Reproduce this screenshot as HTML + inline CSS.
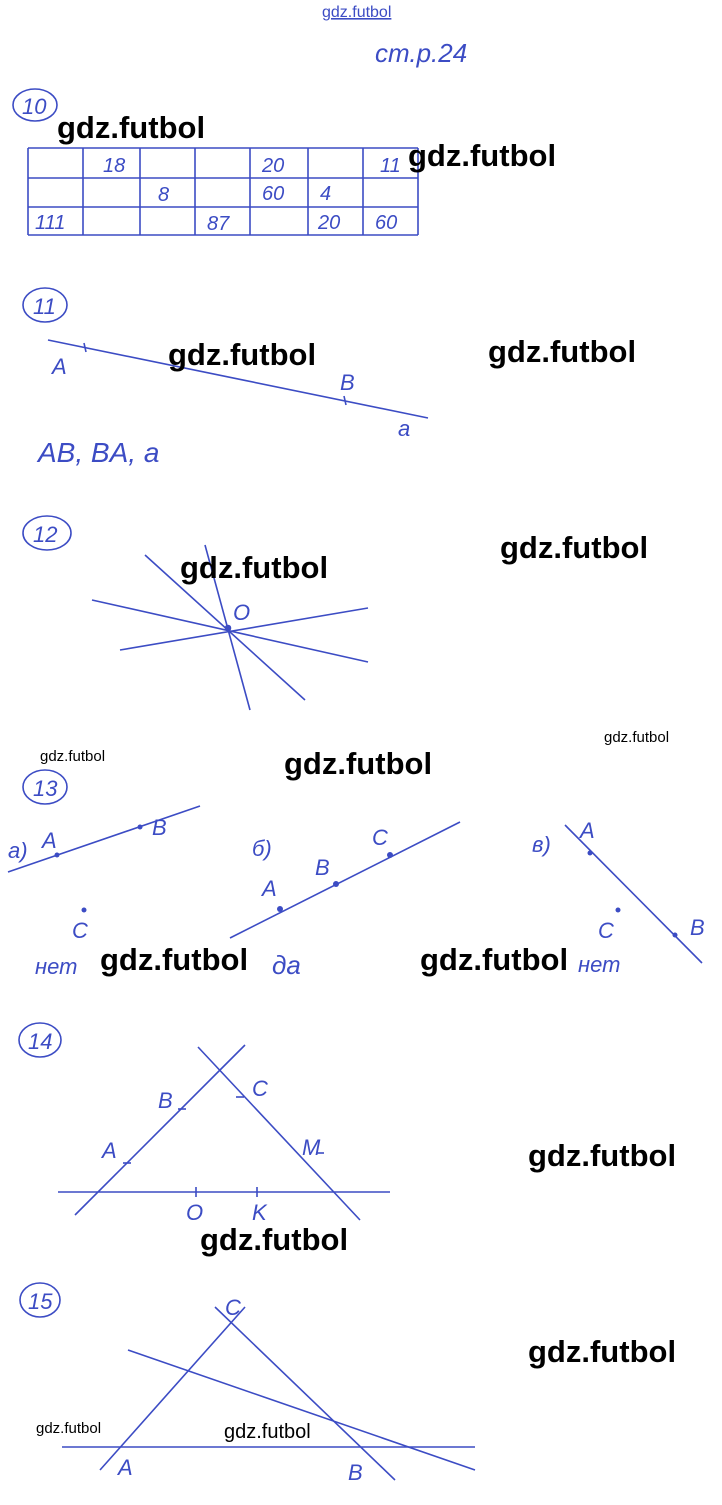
<!DOCTYPE html>
<html><head><meta charset="utf-8"><style>
html,body{margin:0;padding:0;background:#fff;}
body{width:722px;height:1505px;position:relative;overflow:hidden;}
svg{position:absolute;left:0;top:0;}
.h{font-family:"Liberation Sans",sans-serif;font-style:italic;fill:#3c4cc4;}
.w{font-family:"Liberation Sans",sans-serif;font-weight:bold;fill:#000;font-size:31px;}
.ws{font-family:"Liberation Sans",sans-serif;fill:#000;}
</style></head><body>
<svg width="722" height="1505" viewBox="0 0 722 1505" stroke="#3c4cc4" stroke-width="1.6" fill="none">
<text x="322" y="17" font-family="Liberation Sans" font-size="16" fill="#3c4cc4" stroke="none" text-decoration="underline">gdz.futbol</text>
<text class="h" x="375" y="62" font-size="26" stroke="none">ст.р.24</text>
<!-- 10 -->
<ellipse cx="35" cy="105" rx="22" ry="16"/><text class="h" x="22" y="114" font-size="22" stroke="none">10</text>
<g>
<line x1="28" y1="148" x2="418" y2="148"/><line x1="28" y1="178" x2="418" y2="178"/>
<line x1="28" y1="207" x2="418" y2="207"/><line x1="28" y1="235" x2="418" y2="235"/>
<line x1="28" y1="148" x2="28" y2="235"/><line x1="83" y1="148" x2="83" y2="235"/>
<line x1="140" y1="148" x2="140" y2="235"/><line x1="195" y1="148" x2="195" y2="235"/>
<line x1="250" y1="148" x2="250" y2="235"/><line x1="308" y1="148" x2="308" y2="235"/>
<line x1="363" y1="148" x2="363" y2="235"/><line x1="418" y1="148" x2="418" y2="235"/>
</g>
<g class="h" font-size="20" stroke="none">
<text x="103" y="172">18</text><text x="262" y="172">20</text><text x="380" y="172">11</text>
<text x="158" y="201">8</text><text x="262" y="200">60</text><text x="320" y="200">4</text>
<text x="35" y="229">111</text><text x="207" y="230">87</text><text x="318" y="229">20</text><text x="375" y="229">60</text>
</g>
<!-- 11 -->
<ellipse cx="45" cy="305" rx="22" ry="17"/><text class="h" x="33" y="314" font-size="22" stroke="none">11</text>
<line x1="48" y1="340" x2="428" y2="418"/>
<line x1="84" y1="343" x2="86" y2="352"/><line x1="344" y1="396" x2="346" y2="405"/>
<g class="h" font-size="22" stroke="none"><text x="52" y="374">A</text><text x="340" y="390">B</text><text x="398" y="436">a</text><text x="38" y="462" font-size="28">AB, BA, a</text></g>
<!-- 12 -->
<ellipse cx="47" cy="533" rx="24" ry="17"/><text class="h" x="33" y="542" font-size="22" stroke="none">12</text>
<line x1="92" y1="600" x2="368" y2="662"/><line x1="145" y1="555" x2="305" y2="700"/>
<line x1="205" y1="545" x2="250" y2="710"/><line x1="120" y1="650" x2="368" y2="608"/>
<circle cx="228" cy="628" r="2.5" fill="#3c4cc4"/>
<text class="h" x="233" y="620" font-size="22" stroke="none">O</text>
<!-- 13 -->
<ellipse cx="45" cy="787" rx="22" ry="17"/><text class="h" x="33" y="796" font-size="22" stroke="none">13</text>
<line x1="8" y1="872" x2="200" y2="806"/>
<line x1="230" y1="938" x2="460" y2="822"/>
<line x1="565" y1="825" x2="702" y2="963"/>
<g fill="#3c4cc4" stroke="none">
<circle cx="57" cy="855" r="2.5"/><circle cx="140" cy="827" r="2.5"/><circle cx="84" cy="910" r="2.5"/>
<circle cx="280" cy="909" r="3"/><circle cx="336" cy="884" r="3"/><circle cx="390" cy="855" r="3"/>
<circle cx="590" cy="853" r="2.5"/><circle cx="675" cy="935" r="2.5"/><circle cx="618" cy="910" r="2.5"/>
</g>
<g class="h" font-size="22" stroke="none">
<text x="8" y="858">а)</text><text x="42" y="848">A</text><text x="152" y="835">B</text><text x="72" y="938">C</text><text x="35" y="974">нет</text>
<text x="252" y="856">б)</text><text x="262" y="896">A</text><text x="315" y="875">B</text><text x="372" y="845">C</text><text x="272" y="974" font-size="26">да</text>
<text x="532" y="852">в)</text><text x="580" y="838">A</text><text x="690" y="935">B</text><text x="598" y="938">C</text><text x="578" y="972">нет</text>
</g>
<!-- 14 -->
<ellipse cx="40" cy="1040" rx="21" ry="17"/><text class="h" x="28" y="1049" font-size="22" stroke="none">14</text>
<line x1="58" y1="1192" x2="390" y2="1192"/>
<line x1="75" y1="1215" x2="245" y2="1045"/>
<line x1="198" y1="1047" x2="360" y2="1220"/>
<line x1="196" y1="1187" x2="196" y2="1197"/><line x1="257" y1="1187" x2="257" y2="1197"/>
<line x1="123" y1="1163" x2="131" y2="1163"/><line x1="178" y1="1109" x2="186" y2="1109"/>
<line x1="236" y1="1097" x2="244" y2="1097"/><line x1="316" y1="1153" x2="324" y2="1153"/>
<g class="h" font-size="22" stroke="none"><text x="102" y="1158">A</text><text x="158" y="1108">B</text><text x="252" y="1096">C</text><text x="302" y="1155">M</text><text x="186" y="1220">O</text><text x="252" y="1220">K</text></g>
<!-- 15 -->
<ellipse cx="40" cy="1300" rx="20" ry="17"/><text class="h" x="28" y="1309" font-size="22" stroke="none">15</text>
<line x1="62" y1="1447" x2="475" y2="1447"/>
<line x1="100" y1="1470" x2="245" y2="1307"/>
<line x1="215" y1="1307" x2="395" y2="1480"/>
<line x1="128" y1="1350" x2="475" y2="1470"/>
<g class="h" font-size="22" stroke="none"><text x="225" y="1315">C</text><text x="118" y="1475">A</text><text x="348" y="1480">B</text></g>
<!-- watermarks -->
<g stroke="none">
<text class="w" x="57" y="138">gdz.futbol</text>
<text class="w" x="408" y="166">gdz.futbol</text>
<text class="w" x="168" y="365">gdz.futbol</text>
<text class="w" x="488" y="362">gdz.futbol</text>
<text class="w" x="180" y="578">gdz.futbol</text>
<text class="w" x="500" y="558">gdz.futbol</text>
<text class="w" x="284" y="774">gdz.futbol</text>
<text class="w" x="100" y="970">gdz.futbol</text>
<text class="w" x="420" y="970">gdz.futbol</text>
<text class="w" x="528" y="1166">gdz.futbol</text>
<text class="w" x="200" y="1250">gdz.futbol</text>
<text class="w" x="528" y="1362">gdz.futbol</text>
<text class="ws" x="40" y="761" font-size="15">gdz.futbol</text>
<text class="ws" x="604" y="742" font-size="15">gdz.futbol</text>
<text class="ws" x="36" y="1433" font-size="15">gdz.futbol</text>
<text class="ws" x="224" y="1438" font-size="20">gdz.futbol</text>
</g>
</svg>
</body></html>
